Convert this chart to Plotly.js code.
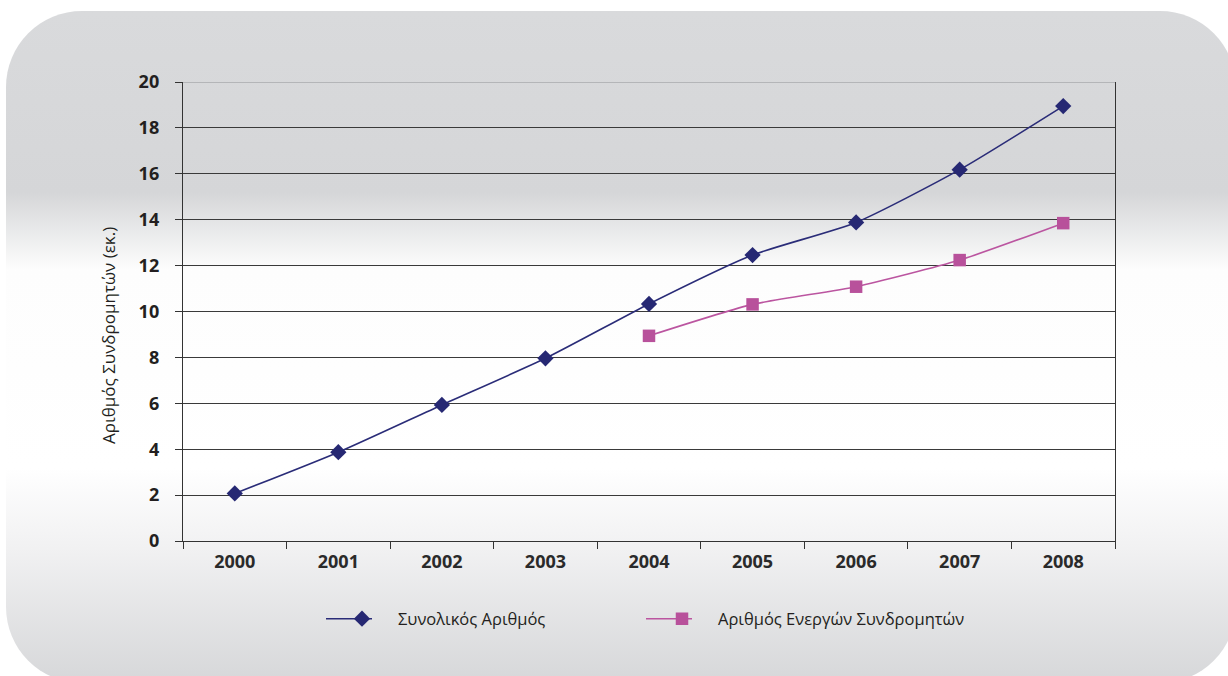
<!DOCTYPE html>
<html>
<head>
<meta charset="utf-8">
<script src="https://cdn.plot.ly/plotly-3.0.1.min.js"></script>
<style>
  html, body { margin:0; padding:0; background:#ffffff; width:1228px; height:676px; overflow:hidden; }
  #bg { position:absolute; left:6px; top:11px; width:1230px; height:672px; border-radius:76px;
        background: linear-gradient(to bottom, #d9dadc 0%, #d5d6d8 27%, #fdfdfd 38.5%, #ffffff 68%, #f1f1f2 80%, #d6d7d9 100%); }
  #chart { position:absolute; left:0; top:0; width:1228px; height:676px; }
</style>
</head>
<body>
<div id="bg"></div>
<div id="chart"></div>
<script>
const years = ['2000','2001','2002','2003','2004','2005','2006','2007','2008'];
const totalSubscribers = [2.07, 3.87, 5.93, 7.96, 10.33, 12.46, 13.88, 16.18, 18.95];
const activeYears = ['2004','2005','2006','2007','2008'];
const activeSubscribers = [8.94, 10.31, 11.08, 12.24, 13.85];
const seriesNames = ['Συνολικός Αριθμός', 'Αριθμός Ενεργών Συνδρομητών'];
const yTitle = 'Αριθμός Συνδρομητών (εκ.)';

const fontFam = '"Open Sans", "DejaVu Sans", sans-serif';

const traces = [
  {
    x: years, y: totalSubscribers, name: seriesNames[0], type: 'scatter', mode: 'lines+markers',
    line: { color: '#2a2c78', width: 1.6, shape: 'spline', smoothing: 0.6 },
    marker: { symbol: 'diamond', size: 12.5, color: '#262873' },
    legend: 'legend'
  },
  {
    x: activeYears, y: activeSubscribers, name: seriesNames[1], type: 'scatter', mode: 'lines+markers',
    line: { color: '#bb55a0', width: 1.6, shape: 'spline', smoothing: 0.6 },
    marker: { symbol: 'square', size: 12.5, color: '#b8519b' },
    legend: 'legend2'
  }
];

const legendFont = { family: fontFam, size: 16.5, color: '#231f20' };

const layout = {
  width: 1228, height: 676,
  margin: { l: 183, r: 113, t: 82, b: 135 },
  paper_bgcolor: 'rgba(0,0,0,0)',
  plot_bgcolor: 'rgba(0,0,0,0)',
  showlegend: true,
  xaxis: {
    type: 'category', categoryorder: 'array', categoryarray: years,
    range: [-0.5, 8.5],
    tickson: 'boundaries', ticks: 'outside', ticklen: 7, tickcolor: '#333', tickwidth: 1,
    showline: true, linecolor: '#333', linewidth: 1.2,
    showgrid: false, zeroline: false,
    tickfont: { family: fontFam, size: 18, color: '#2a2a2a', weight: 'bold' },
    ticklabelstandoff: 4
  },
  yaxis: {
    range: [0, 20], dtick: 2, tick0: 0,
    ticks: 'outside', ticklen: 7, tickcolor: '#333', tickwidth: 1,
    showline: true, linecolor: '#333', linewidth: 1.2, mirror: true,
    showgrid: true, gridcolor: '#3a3a3a', gridwidth: 1,
    zeroline: false,
    tickfont: { family: fontFam, size: 18, color: '#231f20', weight: 'bold' },
    ticklabelstandoff: 12
  },
  shapes: [
    { type: 'line', xref: 'paper', yref: 'y', x0: 0, x1: 1, y0: 20, y1: 20,
      line: { color: '#a9aaac', width: 1.5 }, layer: 'above' }
  ],
  annotations: [
    { text: yTitle, xref: 'paper', yref: 'paper', x: (108 - 183) / 932, y: (541 - 336) / 459,
      xanchor: 'center', yanchor: 'middle', textangle: -90, showarrow: false,
      font: { family: fontFam, size: 17, color: '#231f20' } }
  ],
  legend: {
    orientation: 'h', x: (326 - 183) / 932, y: (541 - 619) / 459, xanchor: 'left', yanchor: 'middle',
    bgcolor: 'rgba(0,0,0,0)', font: legendFont, itemwidth: 62
  },
  legend2: {
    orientation: 'h', x: (646 - 183) / 932, y: (541 - 619) / 459, xanchor: 'left', yanchor: 'middle',
    bgcolor: 'rgba(0,0,0,0)', font: legendFont, itemwidth: 62
  }
};

Plotly.newPlot('chart', traces, layout, { displayModeBar: false, staticPlot: true }).then(function (gd) {
  // lengthen legend line samples to match the reference
  gd.querySelectorAll('.legendlines path').forEach(function (p) {
    p.setAttribute('d', 'M-19,0h65');
  });
});
</script>
</body>
</html>
